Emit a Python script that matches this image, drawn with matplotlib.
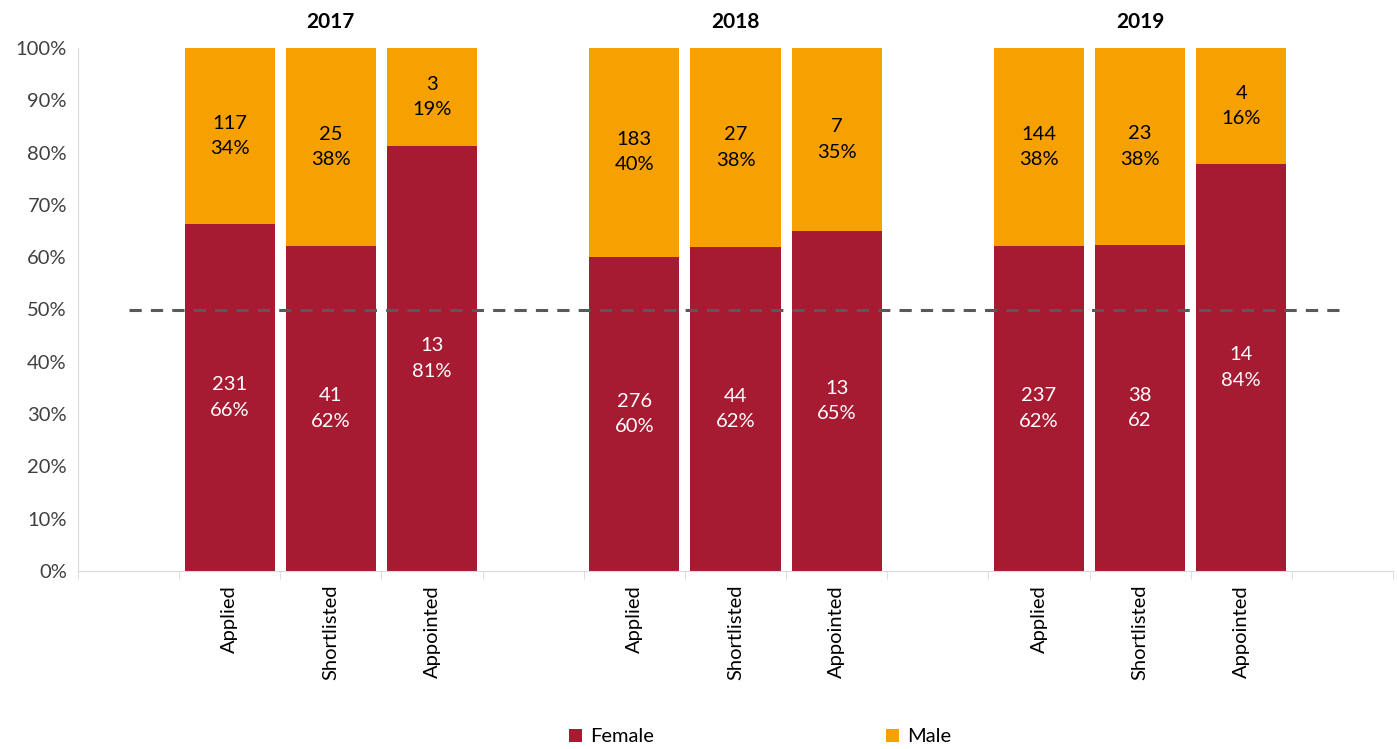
import numpy as np
import matplotlib.pyplot as plt

plt.rcParams['font.family'] = ['Lato', 'DejaVu Sans']

years = ["2017", "2018", "2019"]
stages = ["Applied", "Shortlisted", "Appointed"]
female = [231, 41, 13, 276, 44, 13, 237, 38, 14]
male = [117, 25, 3, 183, 27, 7, 144, 23, 4]
female_pct = ["66%", "62%", "81%", "60%", "62%", "65%", "62%", "62", "84%"]
male_pct = ["34%", "38%", "19%", "40%", "38%", "35%", "38%", "38%", "16%"]
parity = 0.5

c_female = "#A61A32"
c_male = "#F7A100"

# category slots: blank, 3 stages, blank, 3 stages, blank, 3 stages, blank
pos = []
for g in range(len(years)):
    pos += [1 + 4 * g + i for i in range(len(stages))]
pos = np.array(pos)
n_slots = 4 * len(years) + 1

fem = np.array(female, dtype=float)
mal = np.array(male, dtype=float)
tot = fem + mal
f_share = fem / tot
m_share = mal / tot

fs = 14.5

fig = plt.figure(figsize=(13.97, 7.49), dpi=100)
ax = fig.add_axes([78 / 1397, 1 - 571 / 749, 1315 / 1397, 523 / 749])

ax.bar(pos, f_share, width=0.89, color=c_female, label="Female")
ax.bar(pos, m_share, width=0.89, bottom=f_share, color=c_male, label="Male")

ax.plot([0, n_slots - 1], [parity, parity], color="#595959", linestyle=(0, (4, 3)), linewidth=2.2)

for i, x in enumerate(pos):
    ax.text(x, f_share[i] / 2, f"{female[i]}\n{female_pct[i]}", ha="center", va="center",
            color="white", fontsize=fs, linespacing=1.6)
    ax.text(x, f_share[i] + m_share[i] / 2, f"{male[i]}\n{male_pct[i]}", ha="center", va="center",
            color="black", fontsize=fs, linespacing=1.6)

for g, yr in enumerate(years):
    ax.text(2 + 4 * g, 1.05, yr, ha="center", va="center", fontsize=15, fontweight="bold",
            transform=ax.get_xaxis_transform())

ax.set_xlim(-0.5, n_slots - 0.5)
ax.set_ylim(0, 1)
ax.set_yticks(np.arange(0, 1.01, 0.1))
ax.set_yticklabels([f"{int(round(v * 100))}%" for v in np.arange(0, 1.01, 0.1)], fontsize=fs, color="#404040")
ax.set_xticks(pos)
ax.set_xticklabels(stages * len(years), rotation=90, fontsize=fs)
ax.set_xticks(np.arange(-0.5, n_slots, 1.0), minor=True)
ax.tick_params(axis="x", which="major", length=0, pad=10)
ax.tick_params(axis="x", which="minor", length=6, color="#D9D9D9")
ax.tick_params(axis="y", length=0, pad=8)

for s in ["top", "right"]:
    ax.spines[s].set_visible(False)
ax.spines["left"].set_color("#D9D9D9")
ax.spines["bottom"].set_color("#D9D9D9")

handles, labels = ax.get_legend_handles_labels()
fig.legend(handles, labels, loc="center", bbox_to_anchor=(760 / 1397, 1 - 737 / 749), ncol=2,
           frameon=False, fontsize=fs, handlelength=0.65, handleheight=0.65, handletextpad=0.4,
           columnspacing=11.5)

plt.savefig("out.png", dpi=100)
